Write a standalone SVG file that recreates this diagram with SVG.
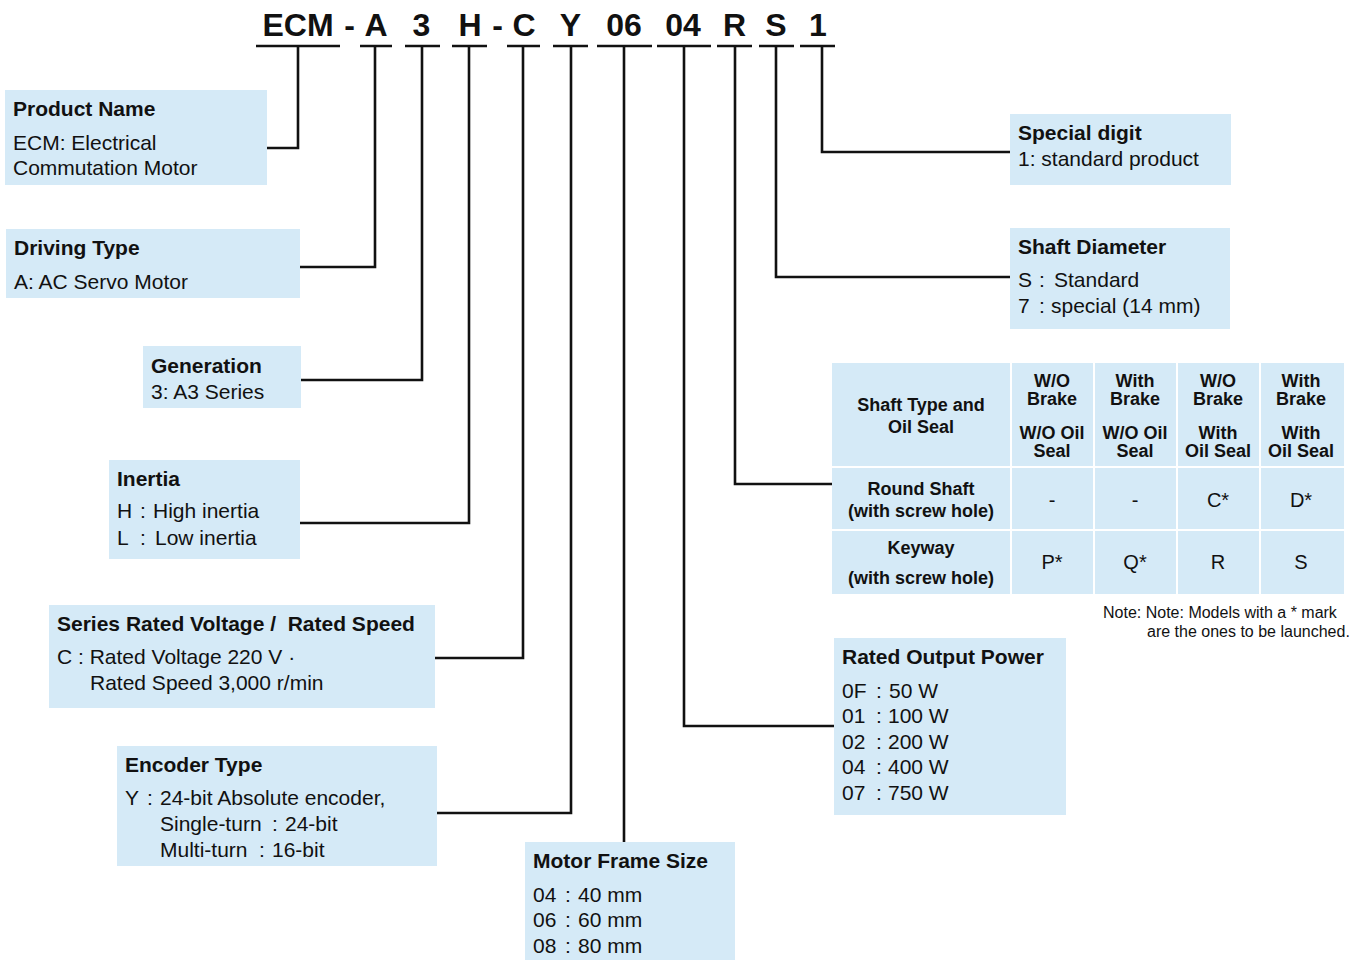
<svg xmlns="http://www.w3.org/2000/svg" width="1367" height="960" viewBox="0 0 1367 960">
<style>
.box{fill:#d5eaf7}
.cell{fill:#d5eaf7}
.t{font-family:"Liberation Sans",Arial,sans-serif;font-size:21px;fill:#111;font-weight:bold}
.b{font-family:"Liberation Sans",Arial,sans-serif;font-size:21px;fill:#111}
.code{font-family:"Liberation Sans",Arial,sans-serif;font-size:32px;font-weight:bold;fill:#111;text-anchor:middle}
.th{font-family:"Liberation Sans",Arial,sans-serif;font-size:18px;font-weight:bold;fill:#111;text-anchor:middle}
.tv{font-family:"Liberation Sans",Arial,sans-serif;font-size:20px;fill:#111;text-anchor:middle}
.note{font-family:"Liberation Sans",Arial,sans-serif;font-size:16px;fill:#111}
.ln{fill:none;stroke:#111;stroke-width:2.6}
</style>
<rect width="1367" height="960" fill="#fff"/>
<g id="code">
<text class="code" x="298" y="36">ECM</text>
<text class="code" x="349.5" y="36">-</text>
<text class="code" x="376" y="36">A</text>
<text class="code" x="421.5" y="36">3</text>
<text class="code" x="470" y="36">H</text>
<text class="code" x="497.5" y="36">-</text>
<text class="code" x="524" y="36">C</text>
<text class="code" x="570.5" y="36">Y</text>
<text class="code" x="624" y="36">06</text>
<text class="code" x="683" y="36">04</text>
<text class="code" x="734.5" y="36">R</text>
<text class="code" x="776" y="36">S</text>
<text class="code" x="818" y="36">1</text>
</g>
<g id="connectors" class="ln">
<path d="M256 46H340M360 46H392M405 46H440M452 46H487M507 46H540M553 46H588M597 46H652M657 46H711M717 46H752M759 46H794M800 46H835"/>
<polyline points="298,46 298,148 267,148"/>
<polyline points="375,46 375,267 300,267"/>
<polyline points="422,46 422,380 301,380"/>
<polyline points="469,46 469,523 300,523"/>
<polyline points="523,46 523,658 435,658"/>
<polyline points="571,46 571,813 437,813"/>
<polyline points="624,46 624,842"/>
<polyline points="684,46 684,726 834,726"/>
<polyline points="735,46 735,484 832,484"/>
<polyline points="776,46 776,277 1010,277"/>
<polyline points="822,46 822,152 1010,152"/>
</g>
<g id="product-name">
<rect class="box" x="5" y="90" width="262" height="95"/>
<text class="t" x="13" y="116">Product Name</text>
<text class="b" x="13" y="150">ECM: Electrical</text>
<text class="b" x="13" y="175">Commutation Motor</text>
</g>
<g id="driving-type">
<rect class="box" x="6" y="229" width="294" height="69"/>
<text class="t" x="14" y="255">Driving Type</text>
<text class="b" x="14" y="289">A: AC Servo Motor</text>
</g>
<g id="generation">
<rect class="box" x="143" y="346" width="158" height="62"/>
<text class="t" x="151" y="373">Generation</text>
<text class="b" x="151" y="399">3: A3 Series</text>
</g>
<g id="inertia">
<rect class="box" x="109" y="460" width="191" height="99"/>
<text class="t" x="117" y="486">Inertia</text>
<text class="b" x="117" y="518">H<tspan x="140">:</tspan><tspan x="153">High inertia</tspan></text>
<text class="b" x="117" y="545">L<tspan x="140">:</tspan><tspan x="155">Low inertia</tspan></text>
</g>
<g id="series">
<rect class="box" x="49" y="605" width="386" height="103"/>
<text class="t" x="57" y="631">Series Rated Voltage /&#160; Rated Speed</text>
<text class="b" x="57" y="664">C : Rated Voltage 220 V ·</text>
<text class="b" x="90" y="690">Rated Speed 3,000 r/min</text>
</g>
<g id="encoder">
<rect class="box" x="117" y="746" width="320" height="120"/>
<text class="t" x="125" y="772">Encoder Type</text>
<text class="b" x="125" y="805">Y<tspan x="147">:</tspan><tspan x="160">24-bit Absolute encoder,</tspan></text>
<text class="b" x="160" y="831">Single-turn<tspan x="272">:</tspan><tspan x="285">24-bit</tspan></text>
<text class="b" x="160" y="857">Multi-turn<tspan x="259">:</tspan><tspan x="272">16-bit</tspan></text>
</g>
<g id="frame-size">
<rect class="box" x="525" y="842" width="210" height="118"/>
<text class="t" x="533" y="868">Motor Frame Size</text>
<text class="b" x="533" y="902">04<tspan x="565">:</tspan><tspan x="578">40 mm</tspan></text>
<text class="b" x="533" y="927">06<tspan x="565">:</tspan><tspan x="578">60 mm</tspan></text>
<text class="b" x="533" y="953">08<tspan x="565">:</tspan><tspan x="578">80 mm</tspan></text>
</g>
<g id="output-power">
<rect class="box" x="834" y="638" width="232" height="177"/>
<text class="t" x="842" y="664">Rated Output Power</text>
<text class="b" x="842" y="698">0F<tspan x="876">:</tspan><tspan x="889">50 W</tspan></text>
<text class="b" x="842" y="723">01<tspan x="876">:</tspan><tspan x="888">100 W</tspan></text>
<text class="b" x="842" y="749">02<tspan x="876">:</tspan><tspan x="888">200 W</tspan></text>
<text class="b" x="842" y="774">04<tspan x="876">:</tspan><tspan x="888">400 W</tspan></text>
<text class="b" x="842" y="800">07<tspan x="876">:</tspan><tspan x="888">750 W</tspan></text>
</g>
<g id="shaft-table">
<rect class="cell" x="832" y="363" width="178" height="103"/>
<rect class="cell" x="1012" y="363" width="81" height="103"/>
<rect class="cell" x="1095" y="363" width="81" height="103"/>
<rect class="cell" x="1178" y="363" width="81" height="103"/>
<rect class="cell" x="1261" y="363" width="83" height="103"/>
<rect class="cell" x="832" y="468" width="178" height="61"/>
<rect class="cell" x="1012" y="468" width="81" height="61"/>
<rect class="cell" x="1095" y="468" width="81" height="61"/>
<rect class="cell" x="1178" y="468" width="81" height="61"/>
<rect class="cell" x="1261" y="468" width="83" height="61"/>
<rect class="cell" x="832" y="531" width="178" height="63"/>
<rect class="cell" x="1012" y="531" width="81" height="63"/>
<rect class="cell" x="1095" y="531" width="81" height="63"/>
<rect class="cell" x="1178" y="531" width="81" height="63"/>
<rect class="cell" x="1261" y="531" width="83" height="63"/>
<text class="th" x="921" y="411">Shaft Type and</text>
<text class="th" x="921" y="433">Oil Seal</text>
<text class="th" x="1052" y="387">W/O</text>
<text class="th" x="1052" y="405">Brake</text>
<text class="th" x="1052" y="439">W/O Oil</text>
<text class="th" x="1052" y="457">Seal</text>
<text class="th" x="1135" y="387">With</text>
<text class="th" x="1135" y="405">Brake</text>
<text class="th" x="1135" y="439">W/O Oil</text>
<text class="th" x="1135" y="457">Seal</text>
<text class="th" x="1218" y="387">W/O</text>
<text class="th" x="1218" y="405">Brake</text>
<text class="th" x="1218" y="439">With</text>
<text class="th" x="1218" y="457">Oil Seal</text>
<text class="th" x="1301" y="387">With</text>
<text class="th" x="1301" y="405">Brake</text>
<text class="th" x="1301" y="439">With</text>
<text class="th" x="1301" y="457">Oil Seal</text>
<text class="th" x="921" y="495">Round Shaft</text>
<text class="th" x="921" y="517">(with screw hole)</text>
<text class="tv" x="1052" y="507">-</text>
<text class="tv" x="1135" y="507">-</text>
<text class="tv" x="1218" y="507">C*</text>
<text class="tv" x="1301" y="507">D*</text>
<text class="th" x="921" y="554">Keyway</text>
<text class="th" x="921" y="584">(with screw hole)</text>
<text class="tv" x="1052" y="569">P*</text>
<text class="tv" x="1135" y="569">Q*</text>
<text class="tv" x="1218" y="569">R</text>
<text class="tv" x="1301" y="569">S</text>
<text class="note" x="1103" y="618">Note: Note: Models with a * mark</text>
<text class="note" x="1147" y="637">are the ones to be launched.</text>
</g>
<g id="shaft-diameter">
<rect class="box" x="1010" y="228" width="220" height="101"/>
<text class="t" x="1018" y="254">Shaft Diameter</text>
<text class="b" x="1018" y="287">S<tspan x="1039">:</tspan><tspan x="1054">Standard</tspan></text>
<text class="b" x="1018" y="313">7<tspan x="1039">:</tspan><tspan x="1051">special (14 mm)</tspan></text>
</g>
<g id="special-digit">
<rect class="box" x="1010" y="114" width="221" height="71"/>
<text class="t" x="1018" y="140">Special digit</text>
<text class="b" x="1018" y="166">1: standard product</text>
</g>
</svg>
